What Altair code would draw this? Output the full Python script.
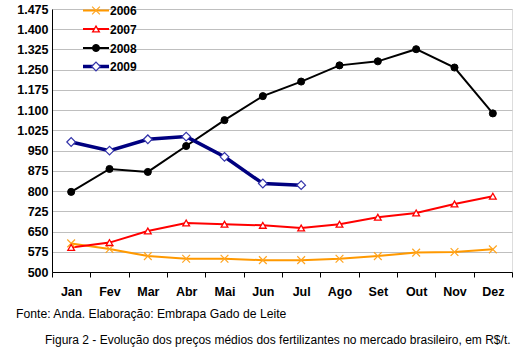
import altair as alt
import pandas as pd

months = ["Jan", "Fev", "Mar", "Abr", "Mai", "Jun", "Jul", "Ago", "Set", "Out", "Nov", "Dez"]
s2006 = [606, 585, 559, 549, 549, 544, 544, 549, 559, 572, 574, 584]
s2007 = [591, 609, 652, 682, 677, 673, 663, 677, 703, 719, 752, 781]
s2008 = [797, 882, 871, 967, 1063, 1152, 1206, 1266, 1281, 1326, 1258, 1088]
s2009 = [982, 950, 992, 1002, 927, 828, 822]
series_names = ["2006", "2007", "2008", "2009"]
y_ticks = [500, 575, 650, 725, 800, 875, 950, 1025, 1100, 1175, 1250, 1325, 1400, 1475]
source_text = "Fonte: Anda. Elaboração: Embrapa Gado de Leite"
caption_text = "Figura 2 - Evolução dos preços médios dos fertilizantes no mercado brasileiro, em R$/t."

rows = []
for name, vals in zip(series_names, [s2006, s2007, s2008, s2009]):
    for m, v in zip(months, vals):
        rows.append({"mes": m, "valor": v, "ano": name})
df = pd.DataFrame(rows)

FONT = "Liberation Sans"
XPATH = "M-1,-1L1,1M1,-1L-1,1"

styles = {
    "2006": dict(color="#FF9900", sw=2, shape=XPATH, size=60, fill="none", mstroke="#FFA521", filled=False, msw=1.2),
    "2007": dict(color="#FF0000", sw=2, shape="triangle-up", size=45, fill="white", mstroke="#FF0000", filled=True, msw=1.3),
    "2008": dict(color="#000000", sw=2, shape="circle", size=50, fill="black", mstroke="black", filled=True, msw=1),
    "2009": dict(color="#000080", sw=3.5, shape="diamond", size=75, fill="white", mstroke="#3333AA", filled=True, msw=1.2),
}

x_enc = alt.X("mes:N", sort=months, bandPosition=0.5,
              scale=alt.Scale(type="band", paddingInner=0, paddingOuter=0),
              axis=alt.Axis(title=None, tickBand="extent", labelAngle=0, domainColor="black",
                            tickColor="black", tickSize=5, labelPadding=8, labelFont=FONT,
                            labelFontSize=12.5, labelFontWeight="bold", labelColor="black", grid=False))
y_enc = alt.Y("valor:Q", scale=alt.Scale(domain=[500, 1475], nice=False, zero=False),
              axis=alt.Axis(title=None, values=y_ticks, ticks=False, labelPadding=4,
                            labelExpr="replace(format(datum.value, ','), ',', '.')",
                            domainColor="black", gridColor="#BFBFBF", gridWidth=1,
                            labelFont=FONT, labelFontSize=12.5, labelFontWeight="bold",
                            labelColor="black"))

base = alt.Chart(df)
layers = []
for name in series_names:
    st = styles[name]
    sub = base.transform_filter(alt.datum.ano == name)
    layers.append(sub.mark_line(color=st["color"], strokeWidth=st["sw"]).encode(x=x_enc, y=y_enc))
for name in series_names:
    st = styles[name]
    sub = base.transform_filter(alt.datum.ano == name)
    layers.append(sub.mark_point(shape=st["shape"], size=st["size"],
                                 filled=st["filled"], fill=st["fill"], stroke=st["mstroke"],
                                 strokeWidth=st["msw"], opacity=1)
                  .encode(x=x_enc, y=y_enc))

# manual legend
leg_y = [1.5, 20, 39, 57.5]
for name, ly in zip(series_names, leg_y):
    st = styles[name]
    ld = pd.DataFrame({"label": [name]})
    lc = alt.Chart(ld)
    layers.append(lc.mark_rule(color=st["color"], strokeWidth=st["sw"]).encode(
        x=alt.value(31), x2=alt.value(57), y=alt.value(ly)))
    layers.append(lc.mark_point(shape=st["shape"], size=st["size"],
                                filled=st["filled"], fill=st["fill"], stroke=st["mstroke"],
                                strokeWidth=st["msw"], opacity=1).encode(
        x=alt.value(44), y=alt.value(ly)))
    layers.append(lc.mark_text(align="left", baseline="middle", font=FONT, fontSize=12,
                               fontWeight="bold", color="black").encode(
        x=alt.value(58), y=alt.value(ly + 0.5), text="label:N"))

fd1 = pd.DataFrame({"t": [source_text]})
fd2 = pd.DataFrame({"t": [caption_text]})
layers.append(alt.Chart(fd1).mark_text(align="left", baseline="alphabetic", font=FONT,
                                       fontSize=12.2, color="black").encode(
    x=alt.value(-36), y=alt.value(309), text="t:N"))
layers.append(alt.Chart(fd2).mark_text(align="left", baseline="alphabetic", font=FONT,
                                       fontSize=12, color="black").encode(
    x=alt.value(-7), y=alt.value(335), text="t:N"))

chart = alt.layer(*layers).properties(
    width=460, height=263,
    autosize=alt.AutoSizeParams(type="none"),
    padding={"left": 52, "top": 9, "right": 10, "bottom": 79},
).configure_view(stroke=None).configure(background="white")

chart.save("out.html", embed_options={"renderer": "svg", "actions": False})
